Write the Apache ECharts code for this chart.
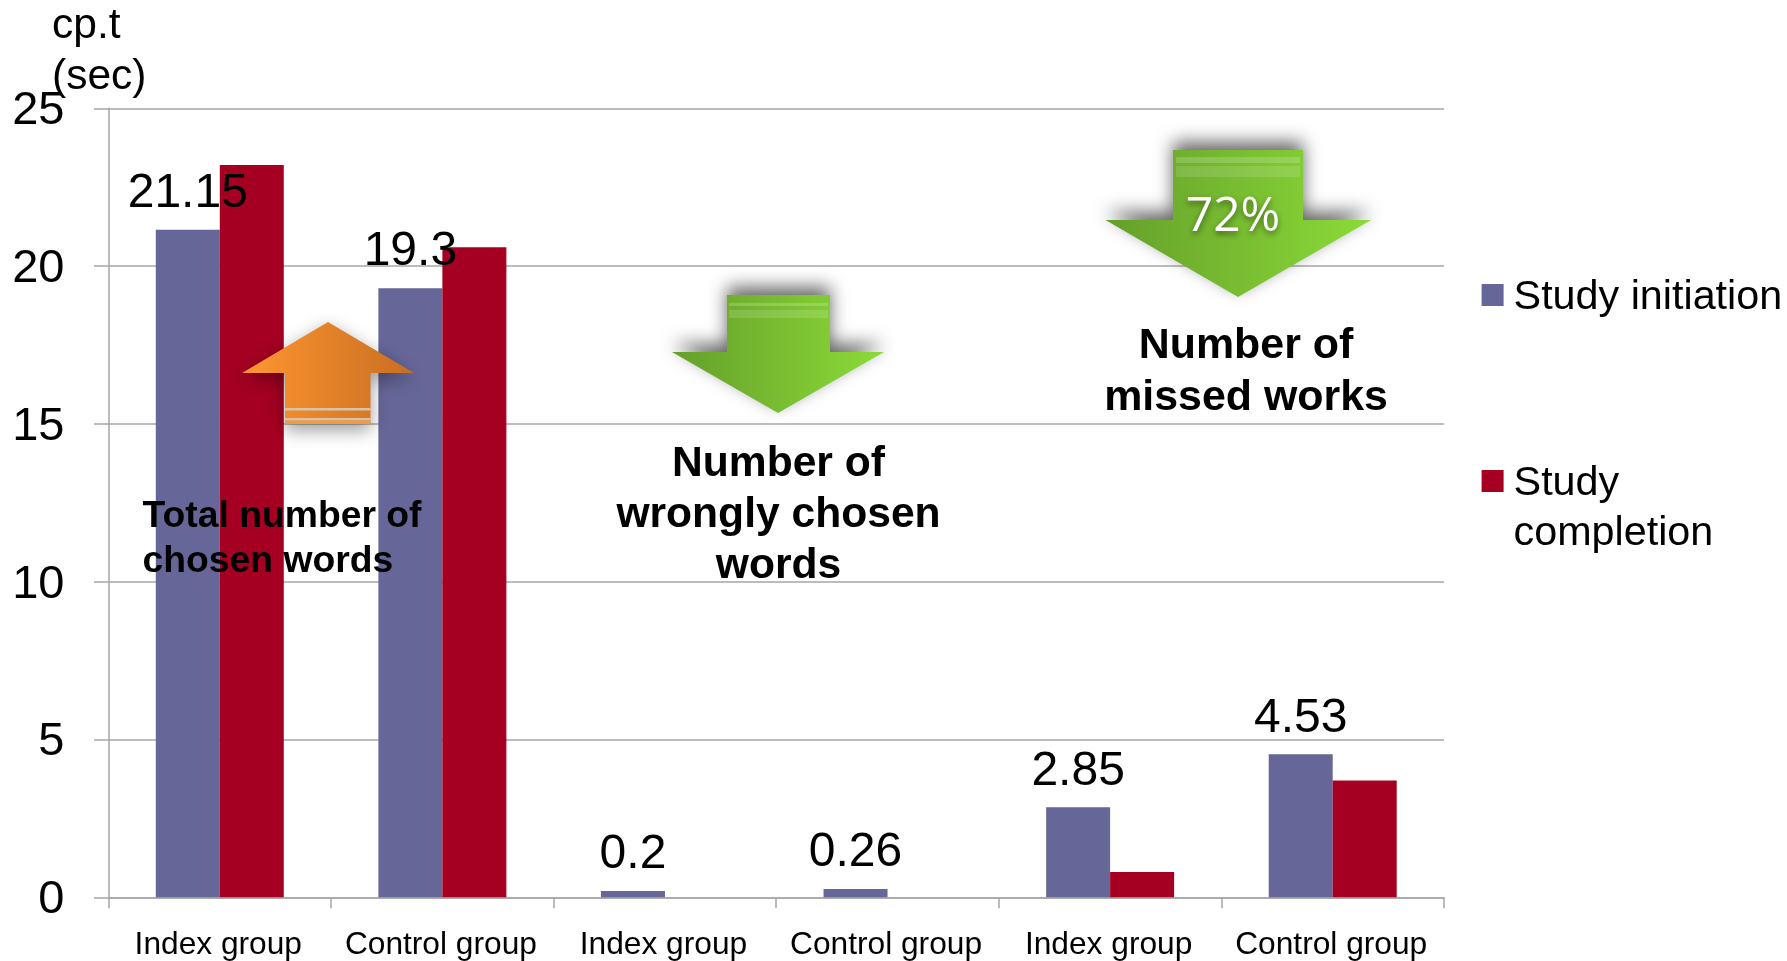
<!DOCTYPE html>
<html>
<head>
<meta charset="utf-8">
<style>html,body{margin:0;padding:0;background:#fff}#c{width:1787px;height:961px}</style>
<script src="https://cdn.jsdelivr.net/npm/echarts@6/dist/echarts.min.js"></script>
</head>
<body>
<div id="c"></div>
<script>
const categories = ['Index group','Control group','Index group','Control group','Index group','Control group'];
const studyInitiation = [21.15, 19.3, 0.2, 0.26, 2.85, 4.53];
const studyCompletion = [23.2, 20.6, 0, 0, 0.8, 3.7];
const yTicks = {min:0, max:25, interval:5};

const FONT = '"Liberation Sans", Arial, sans-serif';
const AXIS = '#a6a6a6';
const chart = echarts.init(document.getElementById('c'), null, {renderer:'canvas'});

function grad(a,b){ return new echarts.graphic.LinearGradient(0,0,1,0,[{offset:0,color:a},{offset:1,color:b}]); }
function poly(points, fill, shadowY, alpha){
  return {type:'polygon', z:50, shape:{points}, style:{fill, shadowBlur:18, shadowColor:'rgba(0,0,0,'+alpha+')', shadowOffsetY:shadowY}};
}
function band(x,y,w,h,fill){ return {type:'rect', z:51, shape:{x,y,width:w,height:h}, style:{fill}}; }
function label(x,y,text,o){
  return {type:'text', z:60, x, y, style:Object.assign({text, fontFamily:FONT, fill:'#000', textAlign:'left', textVerticalAlign:'top'}, o)};
}
const GREEN = () => grad('#649f2a','#8cdb38');

const graphics = [
  label(52,1,'cp.t\n(sec)',{fontSize:42.5,lineHeight:51}),
  // orange arrow
  poly([[328,322],[414,373],[370.5,373],[370.5,424],[285,424],[285,373],[242,373]], grad('#ff9630','#c86e22'), 6, 0.4),
  band(285,408,85.5,2.5,'#d9c3a8'), band(285,418,85.5,2.5,'#d9c3a8'), band(285,421,85.5,3,'#f49a40'),
  // green middle arrow
  poly([[727,295],[830,295],[830,352],[884,352],[778,413],[672,352],[727,352]], GREEN(), -8, 0.6),
  band(729,303,99,3,'rgba(255,255,255,0.2)'), band(729,310,99,8,'rgba(255,255,255,0.14)'),
  // green right arrow
  poly([[1173,150],[1303,150],[1303,220],[1371,220],[1238,297],[1105.5,220],[1173,220]], GREEN(), -8, 0.6),
  band(1176,157,124,6,'rgba(255,255,255,0.18)'), band(1176,166,124,11,'rgba(255,255,255,0.13)'),
  label(1233,193,'72%',{fontFamily:'"Open Sans", sans-serif',fontSize:48,fill:'#fff',textAlign:'center',textShadowBlur:6,textShadowColor:'rgba(0,0,0,0.5)',textShadowOffsetY:3}),
  label(142.5,494,'Total number of\nchosen words',{fontSize:37.3,fontWeight:'bold',lineHeight:45}),
  label(778.5,438.5,'Number of\nwrongly chosen\nwords',{fontSize:42.6,fontWeight:'bold',lineHeight:51,textAlign:'center'}),
  label(1246,320,'Number of\nmissed works',{fontSize:42.9,fontWeight:'bold',lineHeight:52,textAlign:'center'})
];

chart.setOption({
  animation:false,
  backgroundColor:'#fff',
  grid:{left:108.5, top:108.3, width:1335.5, height:789, outerBoundsMode:'none'},
  legend:{
    orient:'vertical', left:1481.6, top:270, padding:0, itemWidth:22, itemHeight:22, itemGap:86, icon:'rect',
    selectedMode:false,
    formatter:n => n === 'Study completion' ? '{t|}\n{t|Study}\n{t|completion}' : '{t|' + n + '}',
    textStyle:{fontFamily:FONT, fontSize:41.3, color:'#000', lineHeight:50,
      rich:{t:{fontFamily:FONT, fontSize:41.3, color:'#000', lineHeight:50, padding:[6,0,0,5]}}},
    data:['Study initiation','Study completion']
  },
  xAxis:{
    type:'category', data:categories,
    axisLine:{lineStyle:{color:AXIS,width:1.5}},
    axisTick:{show:true,alignWithLabel:false,length:11,lineStyle:{color:AXIS,width:1.5}},
    axisLabel:{interval:0,fontFamily:FONT,fontSize:31.7,color:'#000',margin:32,padding:[0,3,0,0]}
  },
  yAxis:{
    type:'value', min:yTicks.min, max:yTicks.max, interval:yTicks.interval,
    axisLine:{show:true,lineStyle:{color:AXIS,width:1.5}},
    axisTick:{show:true,length:14.5,lineStyle:{color:AXIS,width:1.5}},
    splitLine:{show:true,lineStyle:{color:AXIS,width:1.5}},
    axisLabel:{formatter:'{t|{value}}',margin:44,
      rich:{t:{fontFamily:FONT,fontSize:47,color:'#000',padding:[6,0,0,0]}}}
  },
  series:[
    {name:'Study initiation',type:'bar',data:studyInitiation,barWidth:64,barGap:0,
     itemStyle:{color:'#666699'},
     label:{show:true,position:'top',distance:12,fontFamily:FONT,fontSize:48,color:'#000'}},
    {name:'Study completion',type:'bar',data:studyCompletion,barWidth:64,barGap:0,
     itemStyle:{color:'#a50021'}}
  ],
  graphic:graphics
});
</script>
</body>
</html>
